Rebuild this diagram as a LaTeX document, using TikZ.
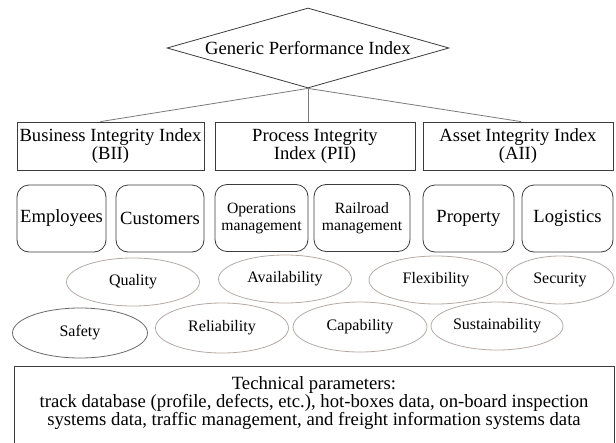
\documentclass[tikz,border=0pt]{standalone}
\usepackage{fontspec}
\setmainfont{Liberation Serif}
\usetikzlibrary{shapes.geometric}
\definecolor{boxline}{HTML}{3C3C3C}
\definecolor{ovalline}{HTML}{B4AAA5}
\definecolor{darkoval}{HTML}{6A6A6A}
\definecolor{linkline}{HTML}{7A7A7A}

\tikzset{
  index/.style={draw=boxline, line width=0.8pt, rectangle, minimum width=#1,
    minimum height=48pt, inner sep=0pt, align=center,
    font=\fontsize{18.6}{18}\selectfont},
  area/.style={draw=boxline, line width=0.8pt, rounded corners=12pt,
    minimum width=#1, minimum height=67pt, inner sep=0pt, align=center},
  factor/.style={draw=ovalline, line width=0.8pt, ellipse, minimum width=#1,
    minimum height=48pt, inner sep=0pt, font=\fontsize{16}{18}\selectfont}
}

\begin{document}
\begin{tikzpicture}[x=1pt,y=-1pt]
  \useasboundingbox (0,0) rectangle (616,442);
  \node[diamond, aspect=3.5, draw=boxline, line width=0.8pt, minimum width=282pt,
    minimum height=80pt, inner sep=0pt, font=\fontsize{18.6}{20}\selectfont]
    (gpi) at (308,48) {Generic Performance Index};
  \node[index=187pt] (bii) at (110.5,146) {Business Integrity Index\\(BII)};
  \node[index=200pt] (pii) at (315,146) {Process Integrity\\Index (PII)};
  \node[index=190pt] (aii) at (518,146) {Asset Integrity Index\\(AII)};
  \node[area=89pt, font=\fontsize{18.6}{18}\selectfont] (emp) at (61.5,218.5) {Employees};
  \node[area=88pt, font=\fontsize{18.6}{18}\selectfont] (cus) at (160,218.5) {Customers};
  \node[area=93pt, font=\fontsize{15.7}{17}\selectfont] (ops) at (261.5,218) {Operations\\management};
  \node[area=96pt, font=\fontsize{15.7}{17}\selectfont] (rail) at (362,218) {Railroad\\management};
  \node[area=91pt, font=\fontsize{18.6}{18}\selectfont] (prop) at (468.5,218.5) {Property};
  \node[area=91pt, font=\fontsize{18.6}{18}\selectfont] (logi) at (567.5,218.5) {Logistics};
  \node[factor=133pt] (qual) at (133,282) {Quality};
  \node[factor=133pt] (avail) at (285,279) {Availability};
  \node[factor=134pt] (flex) at (436,280) {Flexibility};
  \node[factor=108pt] (secu) at (560,280) {Security};
  \node[factor=135pt, draw=darkoval, minimum height=50pt] (safe) at (80,333) {Safety};
  \node[factor=133pt, minimum height=50pt] (reli) at (222,328) {Reliability};
  \node[factor=134pt, minimum height=50pt] (capa) at (360,327) {Capability};
  \node[factor=132pt] (sust) at (497,326) {Sustainability};
  \node[draw=boxline, line width=1pt, minimum width=600pt, minimum height=80pt,
    inner sep=0pt, align=center, font=\fontsize{18.7}{17}\selectfont]
    (tech) at (314,406) {Technical parameters:\\
    track database (profile, defects, etc.), hot-boxes data, on-board inspection\\
    systems data, traffic management, and freight information systems data\rule[-10pt]{0pt}{0pt}};
  % Draw the index links
  \draw[linkline, line width=0.8pt] (gpi.south) -- ([xshift=-10pt]bii.north);
  \draw[linkline, line width=0.8pt] (gpi.south) -- (gpi.south |- pii.north);
  \draw[linkline, line width=0.8pt] (gpi.south) -- ([xshift=3pt]aii.north);
\end{tikzpicture}
\end{document}
